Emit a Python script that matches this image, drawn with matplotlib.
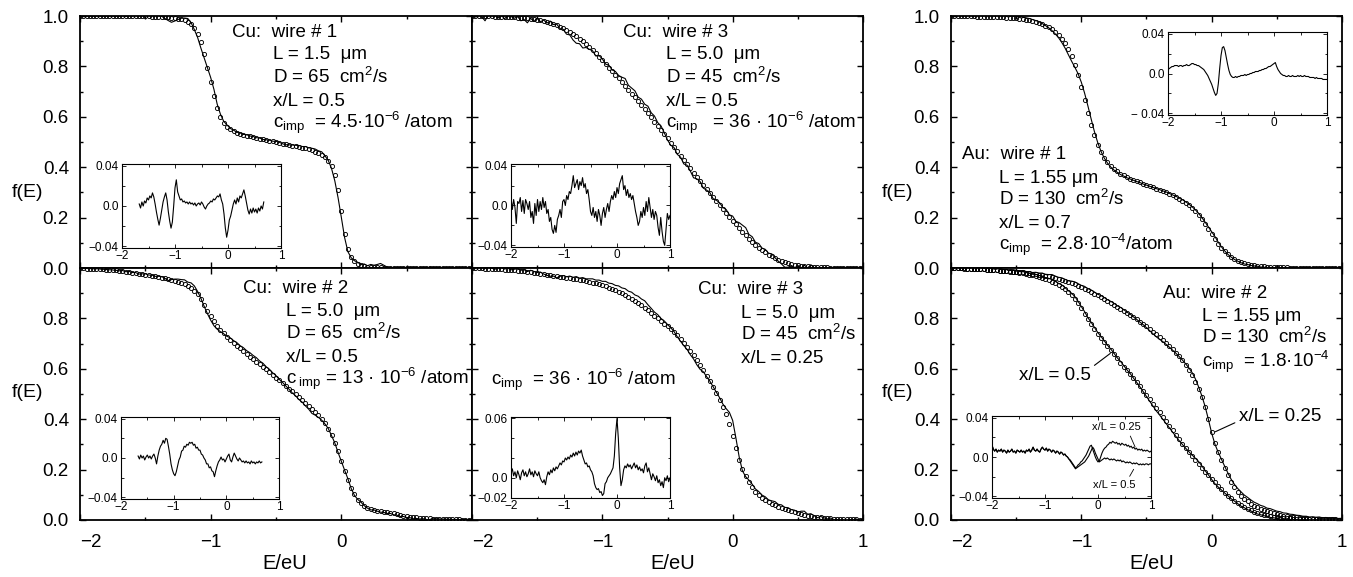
import numpy as np
import matplotlib
matplotlib.use('Agg')
import matplotlib.pyplot as plt
from matplotlib.ticker import MultipleLocator

plt.rcParams['font.family'] = ['Liberation Sans', 'DejaVu Sans']
plt.rcParams['mathtext.fontset'] = 'custom'
plt.rcParams['mathtext.rm'] = 'Liberation Sans'
plt.rcParams['mathtext.it'] = 'Liberation Sans:italic'
plt.rcParams['mathtext.bf'] = 'Liberation Sans:bold'

NAN = np.nan

# E/eU sampling grid: -2 .. 1 in steps of 0.025 (121 samples)
ENERGY = np.linspace(-2.0, 1.0, 121)

# --- Cu wire 1 (L=1.5um, x/L=0.5) ---
CU1_FIT = [1.0] * 18 + [0.999, 0.999,
    0.999, 0.999, 0.998, 0.998, 0.997, 0.997, 0.996, 0.995, 0.994, 0.992,
    0.990, 0.987, 0.983, 0.977, 0.968, 0.952, 0.930, 0.895, 0.850, 0.795,
    0.738, 0.683, 0.636, 0.600, 0.576, 0.561, 0.550, 0.542, 0.536, 0.532,
    0.528, 0.525, 0.522, 0.519, 0.516, 0.513, 0.510, 0.507, 0.504, 0.502,
    0.499, 0.497, 0.494, 0.492, 0.489, 0.486, 0.484, 0.481, 0.478, 0.475,
    0.471, 0.467, 0.462, 0.456, 0.449, 0.439, 0.425, 0.403, 0.368, 0.310,
    0.225, 0.135, 0.075, 0.045, 0.027, 0.017, 0.011, 0.008, 0.005, 0.004,
    0.003, 0.002, 0.002, 0.001, 0.001, 0.001, 0.001, 0.001, 0.000, 0.000] + [0.0] * 21
CU1_DIFF = [NAN] * 13 + [
    0.002, -0.002, 0.004, 0.000, 0.005, 0.003, 0.008, 0.006, 0.010, 0.008,
    0.013, 0.009, 0.002, -0.006, -0.013, -0.019, -0.012, -0.004, 0.004, 0.009,
    0.013, 0.006, -0.006, -0.015, -0.022, -0.016, 0.000, 0.018, 0.026, 0.014,
    0.010, 0.006, 0.007, 0.004, 0.005, 0.003, 0.004, 0.002, 0.004, 0.002,
    0.003, 0.001, 0.003, 0.000, 0.002, 0.003, 0.001, 0.004, 0.002, -0.001,
    -0.003, 0.000, 0.002, 0.003, 0.005, 0.004, 0.007, 0.006, 0.008, 0.010,
    0.009, 0.012, 0.006, 0.002, -0.008, -0.022, -0.031, -0.024, -0.014, -0.010,
    -0.004, 0.002, 0.006, 0.002, 0.008, 0.004, 0.010, 0.008, 0.012, 0.016,
    0.010, 0.003, -0.004, -0.008, -0.003, -0.007, -0.002, -0.006, -0.003, -0.007,
    -0.002, -0.005, 0.000, -0.003, 0.004] + [NAN] * 13

# --- Cu wire 3 (L=5.0um, x/L=0.5) ---
CU3_FIT = [
    1.000, 1.000, 1.000, 0.999, 0.999, 0.999, 0.999, 0.998, 0.998, 0.997,
    0.997, 0.996, 0.996, 0.995, 0.994, 0.993, 0.992, 0.991, 0.989, 0.988,
    0.986, 0.983, 0.980, 0.976, 0.972, 0.968, 0.964, 0.958, 0.951, 0.944,
    0.937, 0.929, 0.920, 0.910, 0.900, 0.889, 0.878, 0.866, 0.853, 0.839,
    0.824, 0.809, 0.795, 0.780, 0.766, 0.752, 0.737, 0.722, 0.707, 0.692,
    0.677, 0.662, 0.646, 0.630, 0.614, 0.598, 0.581, 0.565, 0.548, 0.531,
    0.514, 0.497, 0.480, 0.463, 0.446, 0.429, 0.412, 0.395, 0.378, 0.362,
    0.345, 0.329, 0.313, 0.297, 0.281, 0.265, 0.249, 0.234, 0.218, 0.203,
    0.188, 0.173, 0.158, 0.144, 0.130, 0.117, 0.104, 0.092, 0.081, 0.071,
    0.062, 0.053, 0.046, 0.039, 0.033, 0.028, 0.023, 0.019, 0.016, 0.013,
    0.011, 0.009, 0.007, 0.006, 0.005, 0.004, 0.003, 0.003, 0.002, 0.002,
    0.001, 0.001, 0.001, 0.001, 0.001, 0.001, 0.000, 0.000, 0.000, 0.000, 0.000]
CU3_DIFF = [
    0.008, -0.004, 0.006, -0.002, -0.018, 0.004, 0.002, 0.008, -0.006, 0.005,
    -0.008, 0.006, 0.002, -0.004, 0.004, -0.012, -0.006, -0.018, 0.002, -0.010,
    0.006, -0.006, 0.004, -0.004, 0.008, -0.002, 0.004, -0.008, -0.004, -0.016,
    -0.012, -0.024, -0.028, -0.020, -0.027, -0.014, -0.010, -0.004, -0.012, 0.004,
    0.006, 0.000, 0.010, 0.006, 0.014, 0.012, 0.020, 0.030, 0.018, 0.022,
    0.026, 0.016, 0.024, 0.020, 0.028, 0.018, 0.022, 0.012, 0.016, 0.006,
    -0.006, -0.010, -0.002, -0.012, -0.006, -0.016, -0.004, -0.010, -0.020, -0.008,
    -0.002, -0.012, -0.004, 0.002, -0.006, 0.004, 0.010, 0.006, 0.014, 0.008,
    0.018, 0.012, 0.022, 0.026, 0.030, 0.016, 0.020, 0.010, 0.016, 0.008,
    0.012, 0.006, 0.010, 0.002, -0.006, -0.012, -0.020, -0.016, -0.006, -0.012,
    -0.002, -0.010, 0.004, -0.006, 0.008, -0.002, -0.012, -0.004, -0.014, -0.006,
    -0.010, -0.022, -0.030, -0.012, -0.026, -0.036, -0.040, -0.024, -0.008, -0.014, -0.010]

# --- Cu wire 2 (L=5.0um, x/L=0.5) ---
CU2_FIT = [
    0.999, 0.999, 0.998, 0.998, 0.997, 0.997, 0.996, 0.995, 0.994, 0.993,
    0.992, 0.991, 0.989, 0.988, 0.986, 0.984, 0.982, 0.980, 0.978, 0.976,
    0.974, 0.972, 0.970, 0.968, 0.965, 0.962, 0.959, 0.956, 0.952, 0.948,
    0.944, 0.940, 0.935, 0.929, 0.921, 0.910, 0.895, 0.876, 0.854, 0.831,
    0.809, 0.789, 0.771, 0.755, 0.741, 0.728, 0.716, 0.704, 0.692, 0.681,
    0.670, 0.659, 0.648, 0.638, 0.628, 0.618, 0.608, 0.598, 0.587, 0.576,
    0.565, 0.554, 0.543, 0.532, 0.521, 0.510, 0.499, 0.488, 0.477, 0.466,
    0.454, 0.442, 0.429, 0.415, 0.400, 0.383, 0.362, 0.337, 0.307, 0.272,
    0.234, 0.196, 0.160, 0.128, 0.102, 0.081, 0.066, 0.055, 0.048, 0.043,
    0.040, 0.037, 0.035, 0.033, 0.031, 0.029, 0.026, 0.023, 0.020, 0.017,
    0.015, 0.013, 0.011, 0.010, 0.009, 0.008, 0.007, 0.006, 0.005, 0.005,
    0.004, 0.004, 0.003, 0.003, 0.002, 0.002, 0.002, 0.001, 0.001, 0.001, 0.001]
CU2_DIFF = [NAN] * 13 + [
    0.002, -0.001, 0.003, 0.000, 0.002, -0.002, 0.001, 0.003, 0.000, 0.002,
    -0.001, 0.002, 0.004, 0.000, -0.006, 0.002, 0.008, 0.012, 0.014, 0.018,
    0.015, 0.020, 0.019, 0.012, 0.004, -0.006, -0.012, -0.016, -0.018, -0.014,
    -0.008, -0.002, 0.001, 0.007, 0.008, 0.012, 0.011, 0.014, 0.013, 0.016,
    0.015, 0.016, 0.013, 0.014, 0.010, 0.011, 0.008, 0.008, 0.004, 0.003,
    0.000, -0.002, -0.006, -0.006, -0.010, -0.009, -0.013, -0.014, -0.019, -0.013,
    -0.008, -0.004, -0.002, 0.001, -0.002, -0.001, -0.004, -0.001, 0.002, 0.004,
    -0.002, -0.004, 0.001, 0.005, 0.002, -0.001, -0.003, 0.000, -0.002, -0.004,
    -0.003, -0.005, -0.003, -0.005, -0.004, -0.006, -0.003, -0.005, -0.004, -0.006,
    -0.004, -0.005, -0.003, -0.005, -0.004] + [NAN] * 13

# --- Cu wire 3 (L=5.0um, x/L=0.25) ---
CU3Q_FIT = [
    1.000, 0.999, 0.999, 0.999, 0.998, 0.998, 0.997, 0.997, 0.996, 0.995,
    0.994, 0.993, 0.992, 0.991, 0.990, 0.988, 0.987, 0.985, 0.984, 0.982,
    0.980, 0.978, 0.976, 0.974, 0.972, 0.970, 0.968, 0.966, 0.964, 0.962,
    0.960, 0.958, 0.956, 0.953, 0.951, 0.948, 0.945, 0.942, 0.939, 0.935,
    0.931, 0.927, 0.922, 0.917, 0.912, 0.906, 0.900, 0.893, 0.886, 0.878,
    0.870, 0.861, 0.852, 0.842, 0.832, 0.822, 0.811, 0.800, 0.789, 0.778,
    0.768, 0.757, 0.746, 0.733, 0.719, 0.704, 0.688, 0.671, 0.653, 0.634,
    0.614, 0.594, 0.573, 0.551, 0.527, 0.503, 0.478, 0.450, 0.420, 0.382,
    0.335, 0.285, 0.240, 0.203, 0.174, 0.150, 0.130, 0.113, 0.099, 0.088,
    0.079, 0.071, 0.064, 0.058, 0.052, 0.047, 0.042, 0.038, 0.034, 0.030,
    0.026, 0.023, 0.020, 0.017, 0.015, 0.013, 0.011, 0.010, 0.008, 0.007,
    0.006, 0.005, 0.004, 0.004, 0.003, 0.003, 0.002, 0.002, 0.002, 0.001, 0.001]
CU3Q_DIFF = [
    0.005, 0.009, 0.002, 0.006, 0.000, 0.007, 0.003, -0.002, 0.005, 0.008,
    0.002, 0.006, 0.001, 0.004, 0.009, 0.003, 0.006, 0.001, 0.007, 0.004,
    0.002, 0.006, 0.000, -0.003, -0.005, -0.002, -0.007, 0.001, 0.006, 0.003,
    0.008, 0.005, 0.010, 0.007, 0.011, 0.009, 0.012, 0.015, 0.013, 0.017,
    0.016, 0.020, 0.018, 0.021, 0.019, 0.023, 0.021, 0.025, 0.022, 0.026,
    0.023, 0.027, 0.025, 0.028, 0.022, 0.018, 0.014, 0.015, 0.011, 0.012,
    0.008, 0.006, 0.002, -0.006, -0.010, -0.012, -0.011, -0.015, -0.014, -0.018,
    -0.016, -0.006, -0.004, 0.000, 0.002, 0.004, 0.007, 0.010, 0.022, 0.045,
    0.060, 0.040, 0.010, -0.008, -0.002, 0.008, 0.012, 0.010, 0.014, 0.011,
    0.013, 0.009, 0.012, 0.015, 0.010, 0.013, 0.008, 0.011, 0.007, 0.009,
    0.005, 0.012, 0.015, 0.006, 0.010, 0.004, -0.002, 0.004, 0.001, -0.003,
    0.002, -0.005, -0.002, -0.008, -0.004, -0.010, 0.000, -0.003, 0.002, -0.004, 0.000]

# --- Au wire 1 (L=1.55um, x/L=0.7) ---
AU1_FIT = [
    1.000, 1.000, 1.000, 0.999, 0.999, 0.999, 0.999, 0.999, 0.998, 0.998,
    0.998, 0.997, 0.997, 0.996, 0.996, 0.995, 0.995, 0.994, 0.993, 0.992,
    0.991, 0.989, 0.987, 0.985, 0.983, 0.980, 0.977, 0.973, 0.968, 0.962,
    0.955, 0.947, 0.937, 0.925, 0.910, 0.892, 0.869, 0.841, 0.807, 0.766,
    0.719, 0.668, 0.617, 0.569, 0.526, 0.490, 0.461, 0.438, 0.420, 0.405,
    0.393, 0.383, 0.375, 0.368, 0.361, 0.355, 0.350, 0.345, 0.340, 0.335,
    0.330, 0.325, 0.320, 0.315, 0.310, 0.305, 0.300, 0.294, 0.288, 0.282,
    0.275, 0.267, 0.259, 0.249, 0.238, 0.225, 0.210, 0.193, 0.174, 0.154,
    0.134, 0.114, 0.096, 0.080, 0.066, 0.054, 0.044, 0.036, 0.029, 0.024,
    0.019, 0.016, 0.013, 0.011, 0.009, 0.007, 0.006, 0.005, 0.004, 0.003,
    0.003, 0.002, 0.002, 0.002, 0.001, 0.001, 0.001, 0.001, 0.001, 0.000] + [0.0] * 11
AU1_DIFF = [
    0.004, 0.005, 0.006, 0.007, 0.007, 0.008, 0.008, 0.008, 0.007, 0.008,
    0.008, 0.007, 0.008, 0.008, 0.009, 0.008, 0.008, 0.009, 0.010, 0.010,
    0.009, 0.009, 0.008, 0.008, 0.007, 0.006, 0.005, 0.004, 0.002, 0.000,
    -0.002, -0.005, -0.008, -0.011, -0.015, -0.019, -0.022, -0.020, -0.010, 0.005,
    0.018, 0.026, 0.027, 0.023, 0.016, 0.009, 0.003, -0.001, -0.003, -0.004,
    -0.004, -0.003, -0.004, -0.003, -0.003, -0.002, -0.002, -0.002, -0.001, -0.002,
    -0.001, -0.001, 0.000, 0.000, 0.001, 0.001, 0.002, 0.002, 0.002, 0.003,
    0.003, 0.004, 0.004, 0.005, 0.005, 0.006, 0.007, 0.007, 0.008, 0.009,
    0.010, 0.011, 0.007, 0.004, 0.002, 0.000, -0.001, -0.002, -0.002, -0.003,
    -0.003, -0.002, -0.003, -0.003, -0.002, -0.003, -0.003, -0.003, -0.002, -0.003,
    -0.002, -0.003, -0.003, -0.002, -0.003, -0.003, -0.003, -0.004, -0.004, -0.004,
    -0.004, -0.005, -0.004, -0.005, -0.005, -0.005, -0.005, -0.006, -0.006, -0.006, -0.006]

# --- Au wire 2 (L=1.55um), x/L=0.5 and x/L=0.25 ---
AU2_HALF_FIT = [
    1.000, 0.999, 0.999, 0.999, 0.998, 0.998, 0.997, 0.997, 0.996, 0.995,
    0.995, 0.994, 0.993, 0.992, 0.991, 0.990, 0.989, 0.988, 0.986, 0.985,
    0.983, 0.981, 0.979, 0.977, 0.974, 0.971, 0.968, 0.964, 0.960, 0.956,
    0.951, 0.946, 0.940, 0.933, 0.925, 0.916, 0.905, 0.892, 0.877, 0.860,
    0.840, 0.818, 0.797, 0.777, 0.758, 0.740, 0.722, 0.706, 0.690, 0.673,
    0.657, 0.641, 0.625, 0.609, 0.594, 0.578, 0.562, 0.546, 0.530, 0.513,
    0.496, 0.479, 0.462, 0.445, 0.428, 0.410, 0.392, 0.374, 0.356, 0.338,
    0.320, 0.303, 0.286, 0.270, 0.254, 0.238, 0.222, 0.207, 0.192, 0.178,
    0.163, 0.149, 0.135, 0.122, 0.109, 0.097, 0.086, 0.076, 0.067, 0.058,
    0.051, 0.044, 0.038, 0.033, 0.028, 0.024, 0.021, 0.018, 0.015, 0.013,
    0.011, 0.009, 0.008, 0.007, 0.006, 0.005, 0.004, 0.004, 0.003, 0.003,
    0.002, 0.002, 0.002, 0.001, 0.001, 0.001, 0.001, 0.001, 0.000, 0.000, 0.000]
AU2_QUARTER_FIT = [
    1.000, 1.000, 0.999, 0.999, 0.999, 0.998, 0.998, 0.997, 0.997, 0.996,
    0.995, 0.994, 0.993, 0.992, 0.991, 0.990, 0.989, 0.988, 0.987, 0.986,
    0.985, 0.984, 0.983, 0.981, 0.980, 0.978, 0.976, 0.974, 0.972, 0.970,
    0.967, 0.964, 0.961, 0.957, 0.953, 0.949, 0.944, 0.940, 0.935, 0.930,
    0.924, 0.918, 0.912, 0.905, 0.898, 0.891, 0.884, 0.877, 0.870, 0.862,
    0.855, 0.847, 0.839, 0.831, 0.823, 0.814, 0.805, 0.796, 0.787, 0.778,
    0.768, 0.758, 0.748, 0.738, 0.727, 0.716, 0.704, 0.691, 0.678, 0.664,
    0.649, 0.633, 0.615, 0.596, 0.574, 0.548, 0.520, 0.488, 0.450, 0.402,
    0.350, 0.305, 0.269, 0.237, 0.206, 0.177, 0.151, 0.129, 0.112, 0.097,
    0.085, 0.074, 0.065, 0.057, 0.050, 0.045, 0.040, 0.035, 0.031, 0.027,
    0.023, 0.020, 0.017, 0.015, 0.013, 0.011, 0.010, 0.008, 0.007, 0.006,
    0.005, 0.005, 0.004, 0.004, 0.003, 0.003, 0.002, 0.002, 0.002, 0.001, 0.001]
# both residuals coincide up to E = -0.6
AU2_DIFF_COMMON = [
    0.012, 0.008, 0.006, 0.008, 0.005, 0.007, 0.006, 0.008, 0.005, 0.007,
    0.006, 0.004, 0.007, 0.005, 0.006, 0.008, 0.005, 0.006, 0.004, 0.007,
    0.006, 0.005, 0.007, 0.005, 0.006, 0.004, 0.007, 0.006, 0.008, 0.005,
    0.007, 0.010, 0.007, 0.006, 0.008, 0.006, 0.005, 0.008, 0.010, 0.008,
    0.007, 0.009, 0.006, 0.008, 0.007, 0.005, 0.007, 0.006, 0.004, 0.006,
    0.005, 0.003, 0.005, 0.004, 0.002, 0.003, 0.001]
AU2_QUARTER_DIFF = AU2_DIFF_COMMON + [
    0.000, -0.002, -0.003,
    -0.005, -0.007, -0.009, -0.011, -0.010, -0.008, -0.007, -0.005, -0.004, -0.002,
    0.000, 0.002, 0.005, 0.008, 0.011, 0.012, 0.008, 0.004, 0.000, -0.003,
    -0.005, -0.004, 0.000, 0.004, 0.007, 0.009, 0.010, 0.012, 0.013, 0.015,
    0.014, 0.016, 0.015, 0.014, 0.015, 0.013, 0.014, 0.012, 0.014, 0.013,
    0.012, 0.013, 0.011, 0.012, 0.010, 0.011, 0.009, 0.010, 0.008, 0.009,
    0.007, 0.008, 0.007, 0.008, 0.006, 0.007, 0.006, 0.007, 0.006, 0.005, 0.006]
AU2_HALF_DIFF = AU2_DIFF_COMMON + [
    0.000, -0.002, -0.004,
    -0.006, -0.008, -0.010, -0.012, -0.011, -0.010, -0.009, -0.008, -0.007, -0.006,
    -0.005, -0.003, -0.001, 0.001, 0.004, 0.007, 0.010, 0.008, 0.004, 0.001,
    -0.002, -0.005, -0.004, -0.003, -0.002, -0.001, -0.002, -0.001, -0.002, -0.003,
    -0.002, -0.003, -0.002, -0.003, -0.004, -0.003, -0.004, -0.003, -0.005, -0.004,
    -0.005, -0.006, -0.005, -0.006, -0.005, -0.006, -0.007, -0.006, -0.007, -0.006,
    -0.007, -0.008, -0.007, -0.008, -0.007, -0.008, -0.007, -0.007, -0.008, -0.007, -0.007]

W, H = 1353, 577
fig = plt.figure(figsize=(W / 100, H / 100), dpi=100)

TXT = 13.5   # annotation size
TICK = 13.5  # main tick labels
INSET_TICK = 8.5


def box(left, top, right, bottom):
    # axes from pixel edges of the 1353x577 canvas
    return fig.add_axes([left / W, 1 - bottom / H, (right - left) / W, (bottom - top) / H])


def style_main(ax, top_row, ylabels, xlabels):
    ax.set_xlim(-2, 1)
    ax.set_ylim(0, 1)
    ax.set_xticks([-2, -1, 0, 1])
    ax.set_xticklabels(xlabels if xlabels else [''] * 4)
    ax.xaxis.set_minor_locator(MultipleLocator(0.5))
    yt = [0, 0.2, 0.4, 0.6, 0.8, 1.0] if top_row else [0, 0.2, 0.4, 0.6, 0.8]
    ax.set_yticks(yt)
    ax.set_yticklabels([f'{v:.1f}' for v in yt] if ylabels else [''] * len(yt))
    ax.yaxis.set_minor_locator(MultipleLocator(0.1))
    ax.tick_params(which='both', direction='in', top=True, right=True, width=1.0, labelsize=TICK)
    ax.tick_params(which='major', length=4.5)
    ax.tick_params(which='minor', length=2.5)
    ax.tick_params(axis='y', pad=8)
    ax.tick_params(axis='x', pad=10)
    for s in ax.spines.values():
        s.set_linewidth(1.3)
    if xlabels:
        # the "-2" label sits just right of the left edge
        ax.get_xticklabels()[0].set_horizontalalignment('left')


def draw_curve(ax, fit, diff):
    fit = np.array(fit, dtype=float)
    measured = fit + np.nan_to_num(np.array(diff, dtype=float))
    ax.plot(ENERGY, measured, color='k', lw=0.8, zorder=2)
    ax.plot(ENERGY, fit, 'o', ms=3.0, mfc='none', mec='k', mew=0.65, zorder=3)


def make_inset(rect, curves, ylim=(-0.0417, 0.0417), yticks=(-0.04, 0.0, 0.04),
               ylabels=('\u22120.04', '0.0', '0.04'), yminor=(-0.02, 0.02)):
    ax = box(*rect)
    for c in curves:
        ax.plot(ENERGY, c, color='k', lw=0.8)
    ax.set_xlim(-2, 1)
    ax.set_ylim(*ylim)
    ax.set_xticks([-2, -1, 0, 1])
    ax.set_xticklabels(['\u22122', '\u22121', '0', '1'])
    ax.xaxis.set_minor_locator(MultipleLocator(0.5))
    ax.set_yticks(list(yticks))
    ax.set_yticklabels(list(ylabels))
    ax.set_yticks(list(yminor), minor=True)
    ax.tick_params(which='both', direction='in', top=True, right=True, width=0.6,
                   labelsize=INSET_TICK)
    ax.tick_params(which='major', length=3)
    ax.tick_params(which='minor', length=1.8)
    ax.tick_params(axis='y', pad=2.5)
    ax.tick_params(axis='x', pad=1.5)
    for s in ax.spines.values():
        s.set_linewidth(0.8)
    return ax


def add_lines(ax, x0, y0, head, x1, lines, ys):
    ax.text(x0, y0, head, transform=ax.transAxes, fontsize=TXT, va='baseline')
    for txt, y in zip(lines, ys):
        ax.text(x1, y, txt, transform=ax.transAxes, fontsize=TXT, va='baseline')


XL3 = ['\u22122', '\u22121', '0', '']
XL4 = ['\u22122', '\u22121', '0', '1']

ax_a = box(80, 16, 472, 268)
ax_b = box(472, 16, 863, 268)
ax_c = box(80, 268, 472, 520)
ax_d = box(472, 268, 863, 520)
ax_e = box(951, 16, 1342, 268)
ax_f = box(951, 268, 1342, 520)

style_main(ax_a, True, True, None)
style_main(ax_b, True, False, None)
style_main(ax_c, False, True, XL3)
style_main(ax_d, False, False, XL4)
style_main(ax_e, True, True, None)
style_main(ax_f, False, True, XL4)

draw_curve(ax_a, CU1_FIT, CU1_DIFF)
draw_curve(ax_b, CU3_FIT, CU3_DIFF)
draw_curve(ax_c, CU2_FIT, CU2_DIFF)
draw_curve(ax_d, CU3Q_FIT, CU3Q_DIFF)
draw_curve(ax_e, AU1_FIT, AU1_DIFF)
draw_curve(ax_f, AU2_HALF_FIT, AU2_HALF_DIFF)
draw_curve(ax_f, AU2_QUARTER_FIT, AU2_QUARTER_DIFF)

CM2 = '$\\mathrm{cm}^2$/s'
add_lines(ax_a, 0.388, 0.915, 'Cu:  wire # 1', 0.493,
          ['L = 1.5  \u03bcm', 'D = 65  ' + CM2, 'x/L = 0.5',
           '$\\mathrm{c}_{\\mathrm{imp}}$  = 4.5\u00b7$10^{-6}$ /atom'],
          [0.828, 0.735, 0.643, 0.554])
add_lines(ax_b, 0.386, 0.915, 'Cu:  wire # 3', 0.496,
          ['L = 5.0  \u03bcm', 'D = 45  ' + CM2, 'x/L = 0.5',
           '$\\mathrm{c}_{\\mathrm{imp}}$   = 36 \u00b7 $10^{-6}$ /atom'],
          [0.828, 0.735, 0.643, 0.554])
add_lines(ax_c, 0.416, 0.902, 'Cu:  wire # 2', 0.525,
          ['L = 5.0  \u03bcm', 'D = 65  ' + CM2, 'x/L = 0.5',
           '$\\mathrm{c}_{\\;\\mathrm{imp}}$ = 13 \u00b7 $10^{-6}$ /atom'],
          [0.81, 0.72, 0.628, 0.54])
add_lines(ax_d, 0.578, 0.896, 'Cu:  wire # 3', 0.688,
          ['L = 5.0  \u03bcm', 'D = 45  ' + CM2, 'x/L = 0.25'],
          [0.803, 0.714, 0.624])
ax_d.text(0.049, 0.536, '$\\mathrm{c}_{\\mathrm{imp}}$  = 36 \u00b7 $10^{-6}$ /atom',
          transform=ax_d.transAxes, fontsize=TXT, va='baseline')
add_lines(ax_e, 0.028, 0.431, 'Au:  wire # 1', 0.123,
          ['L = 1.55 \u03bcm', 'D = 130  ' + CM2, 'x/L = 0.7',
           '$\\mathrm{c}_{\\mathrm{imp}}$  = 2.8\u00b7$10^{-4}$/atom'],
          [0.339, 0.25, 0.16, 0.071])
add_lines(ax_f, 0.542, 0.882, 'Au:  wire # 2', 0.642,
          ['L = 1.55 \u03bcm', 'D = 130  ' + CM2,
           '$\\mathrm{c}_{\\mathrm{imp}}$  = 1.8\u00b7$10^{-4}$'],
          [0.79, 0.701, 0.608])

ax_f.annotate('x/L = 0.5', xy=(-0.778, 0.661), xytext=(-1.205, 0.575), fontsize=TXT,
              ha='center', va='center',
              arrowprops=dict(arrowstyle='-', lw=0.8, color='k', relpos=(1.0, 0.9), shrinkA=1, shrinkB=0))
ax_f.annotate('x/L = 0.25', xy=(0.027, 0.35), xytext=(0.525, 0.41), fontsize=TXT,
              ha='center', va='center',
              arrowprops=dict(arrowstyle='-', lw=0.8, color='k', relpos=(0.0, 0.25), shrinkA=1, shrinkB=0))

for ax, y in [(ax_a, 0.298), (ax_c, 0.504)]:
    ax.text(-0.133, y, 'f(E)', transform=ax.transAxes, fontsize=14, ha='center', va='center')
for ax, y in [(ax_e, 0.298), (ax_f, 0.504)]:
    ax.text(-0.138, y, 'f(E)', transform=ax.transAxes, fontsize=14, ha='center', va='center')
for ax, x in [(ax_c, 0.523), (ax_d, 0.514), (ax_f, 0.514)]:
    ax.text(x, -0.171, 'E/eU', transform=ax.transAxes, fontsize=14.5, ha='center', va='center')

# insets: measured minus calculated
make_inset((122, 164, 281, 248), [CU1_DIFF])
make_inset((511, 164, 670, 247), [CU3_DIFF])
make_inset((121, 417, 279, 499), [CU2_DIFF])
make_inset((511, 417, 670, 498), [CU3Q_DIFF], ylim=(-0.0205, 0.0615), yticks=(-0.02, 0.0, 0.06),
           ylabels=('\u22120.02', '0.0', '0.06'), yminor=(0.02, 0.04))
make_inset((1168, 32, 1327, 115), [AU1_DIFF], ylabels=('\u2212 0.04', '0.0', '0.04'))
ins_f = make_inset((992, 416, 1151, 498), [AU2_QUARTER_DIFF, AU2_HALF_DIFF])
ins_f.annotate('x/L = 0.25', xy=(0.70, 0.0102), xytext=(0.346, 0.0305), fontsize=8,
               ha='center', va='center',
               arrowprops=dict(arrowstyle='-', lw=0.6, color='k', relpos=(0.75, 0.0), shrinkA=1, shrinkB=0))
ins_f.annotate('x/L = 0.5', xy=(0.673, -0.0125), xytext=(0.314, -0.0288), fontsize=8,
               ha='center', va='center',
               arrowprops=dict(arrowstyle='-', lw=0.6, color='k', relpos=(0.8, 1.0), shrinkA=1, shrinkB=0))

fig.savefig('out.png', dpi=100)
